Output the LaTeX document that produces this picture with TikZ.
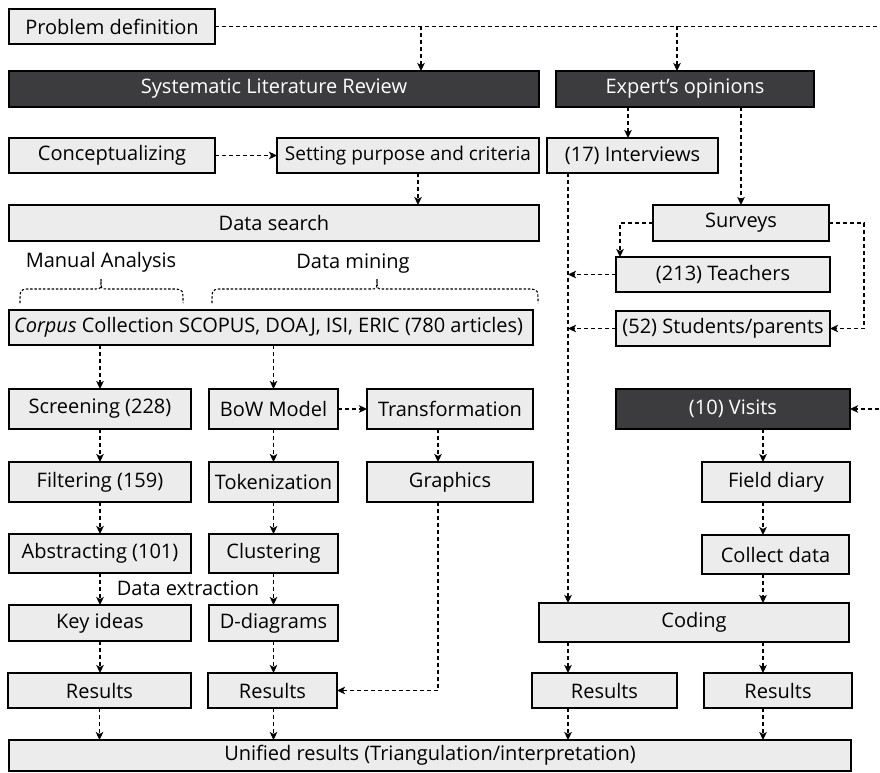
\documentclass[tikz,border=0pt]{standalone}
\usepackage{fontspec}
\setmainfont{Open Sans}
\usetikzlibrary{arrows.meta,calc}
\definecolor{lightbox}{HTML}{ECECEC}
\definecolor{darkbox}{HTML}{3C3C3E}
\newcommand\mkbox[7]{\node[#1, minimum width={(#5)-(#3)}, minimum height={(#6)-(#4)}] (#2) at ({((#3)+(#5))/2},{((#4)+(#6))/2}) {#7};}
\tikzset{
  txt/.style={font=\fontsize{20}{23}\selectfont, inner sep=0pt, outer sep=0pt},
  lbox/.style={txt, draw=black, line width=1.4pt, fill=lightbox, text=black},
  dbox/.style={txt, draw=black, line width=1.4pt, fill=darkbox, text=white},
  conn/.style={line width=1.3pt, dash pattern=on 4pt off 3pt},
  arr/.style={conn, -{Stealth[length=8pt,width=7.5pt,inset=2pt]}},
  brc/.style={line width=1.1pt, dash pattern=on 2.5pt off 1.8pt},
}
\begin{document}
\begin{tikzpicture}[x=1pt,y=-1pt]
\useasboundingbox (0,0) rectangle (880,773);
% boxes
\mkbox{lbox}{prob}{9}{9}{215}{44}{Problem definition}
\mkbox{dbox}{slr}{9}{71}{539}{107}{Systematic Literature Review}
\mkbox{dbox}{exp}{556}{71}{814}{107}{Expert’s opinions}
\mkbox{lbox}{concept}{9}{138}{215}{173}{Conceptualizing}
\mkbox{lbox}{setting}{277}{138}{539}{173}{\fontsize{19}{22}\selectfont Setting purpose and criteria}
\mkbox{lbox}{interv}{547}{138}{718}{173}{(17) Interviews}
\mkbox{lbox}{search}{9}{205}{539}{241}{Data search}
\mkbox{lbox}{surveys}{653}{205}{829}{241}{Surveys}
\mkbox{lbox}{teach}{616}{257}{830}{292}{(213) Teachers}
\mkbox{lbox}{stud}{616}{311}{830}{346}{(52) Students/parents}
\mkbox{lbox}{corpus}{9}{310}{533}{345}{}
\node[txt, anchor=west] (corpustext) at (14,327.5) {\textit{Corpus} Collection SCOPUS, DOAJ, ISI, ERIC (780 articles)};
\mkbox{lbox}{screen}{9}{389}{191}{429}{Screening (228)}
\mkbox{lbox}{bow}{209}{389}{338}{429}{BoW Model}
\mkbox{lbox}{trans}{367}{389}{533}{429}{Transformation}
\mkbox{dbox}{visits}{616}{389}{850}{429}{(10) Visits}
\mkbox{lbox}{filter}{9}{462}{191}{502}{Filtering (159)}
\mkbox{lbox}{token}{209}{462}{338}{502}{Tokenization}
\mkbox{lbox}{graphics}{367}{462}{533}{502}{Graphics}
\mkbox{lbox}{field}{702}{462}{850}{502}{Field diary}
\mkbox{lbox}{abstr}{9}{534}{191}{573}{Abstracting (101)}
\mkbox{lbox}{clust}{209}{534}{338}{573}{Clustering}
\mkbox{lbox}{collect}{702}{535}{849}{574}{Collect data}
\mkbox{lbox}{key}{9}{605}{191}{641}{Key ideas}
\mkbox{lbox}{ddiag}{209}{605}{338}{641}{D-diagrams}
\mkbox{lbox}{coding}{539}{603}{849}{642}{Coding}
\mkbox{lbox}{res1}{8}{673}{191}{708}{Results}
\mkbox{lbox}{res2}{208}{673}{337}{708}{Results}
\mkbox{lbox}{res3}{532}{673}{677}{708}{Results}
\mkbox{lbox}{res4}{704}{673}{852}{708}{Results}
\mkbox{lbox}{unified}{9}{740}{851}{771}{Unified results (Triangulation/interpretation)}
% labels
\node[txt] (manual) at (101,262) {Manual Analysis};
\node[txt] (mining) at (353,264) {Data mining};
\node[txt] (extract) at (188,588) {Data extraction};
% braces
\draw[brc] (20,303) .. controls (20,290) .. (27,289) -- (95,289) .. controls (101,289) .. (101,279)
           .. controls (101,289) .. (107,289) -- (176,289) .. controls (183,290) .. (183,303);
\draw[brc] (212,303) .. controls (212,290) .. (219,289) -- (371,289) .. controls (377,289) .. (377,279)
           .. controls (377,289) .. (383,289) -- (531,289) .. controls (538,290) .. (538,303);
% guide coordinates
\coordinate (j1) at (421,26.5);
\coordinate (j2) at (677,26.5);
\coordinate (xa) at (418,0);
\coordinate (xg) at (438,0);
\coordinate (xi) at (628,0);
\coordinate (xt) at (620,0);
\coordinate (xr) at (864,0);
\coordinate (xl) at (568,0);
\coordinate (xv) at (763,0);
\coordinate (xo) at (884,0);
% problem definition line
\draw[arr] (prob.east) -| (xo |- visits.east) -- (visits.east);
\draw[arr] (j1) -- (j1 |- slr.north);
\draw[arr] (j2) -- (j2 |- exp.north);
% SLR side
\draw[arr] (concept.east) -- (setting.west);
\draw[arr] (setting.south -| xa) -- (search.north -| xa);
\draw[arr] (corpus.south -| screen.north) -- (screen.north);
\draw[arr] (corpus.south -| bow.north) -- (bow.north);
\draw[arr] (screen.south) -- (filter.north);
\draw[arr] (filter.south) -- (abstr.north);
\draw[arr] (abstr.south) -- (key.north);
\draw[arr] (key.south) -- (key.south |- res1.north);
\draw[arr] (res1.south) -- (res1.south |- unified.north);
\draw[arr] (bow.south) -- (token.north);
\draw[arr] (token.south) -- (clust.north);
\draw[arr] (clust.south) -- (ddiag.north);
\draw[arr] (ddiag.south) -- (ddiag.south |- res2.north);
\draw[arr] (ddiag.south |- res2.south) -- (ddiag.south |- unified.north);
\draw[arr] (bow.east) -- (trans.west);
\draw[arr] (trans.south -| xg) -- (graphics.north -| xg);
\draw[arr] (graphics.south -| xg) |- (res2.east);
% expert side
\draw[arr] (exp.south -| xi) -- (interv.north -| xi);
\draw[arr] (exp.south -| surveys.north) -- (surveys.north);
\draw[arr] (surveys.west) -| (teach.north -| xt);
\draw[arr] (surveys.east) -| (xr |- stud.east) -- (stud.east);
\draw[arr] (interv.south -| xl) -- (coding.north -| xl);
\draw[arr] (teach.west) -- (teach.west -| xl);
\draw[arr] (stud.west) -- (stud.west -| xl);
\draw[arr] (visits.south -| xv) -- (field.north -| xv);
\draw[arr] (field.south -| xv) -- (collect.north -| xv);
\draw[arr] (collect.south -| xv) -- (coding.north -| xv);
\draw[arr] (coding.south -| xv) -- (res4.north -| xv);
\draw[arr] (coding.south -| xl) -- (res3.north -| xl);
\draw[arr] (res3.south -| xl) -- (unified.north -| xl);
\draw[arr] (res4.south -| xv) -- (unified.north -| xv);
\end{tikzpicture}
\end{document}
